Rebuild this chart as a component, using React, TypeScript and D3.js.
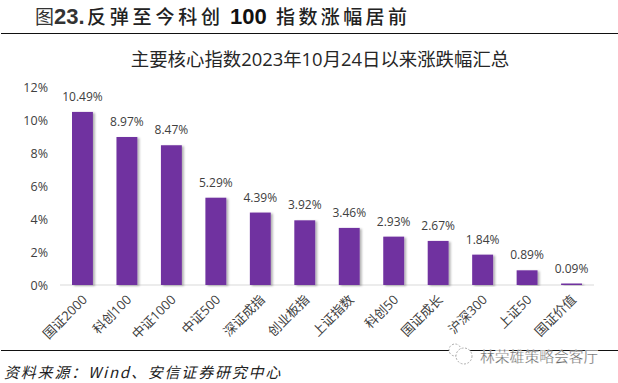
import React from "react";
import * as d3 from "d3";

const categories = ["国证2000","科创100","中证1000","中证500","深证成指","创业板指","上证指数","科创50","国证成长","沪深300","上证50","国证价值"];
const values = [10.49,8.97,8.47,5.29,4.39,3.92,3.46,2.93,2.67,1.84,0.89,0.09];
const yTicks = [0,2,4,6,8,10,12];
const chartTitle = "主要核心指数2023年10月24日以来涨跌幅汇总";
const sourceText = "资料来源：Wind、安信证券研究中心";
const watermark = "林荣雄策略会客厅";

const W = 618, H = 383;
const sans = "'Open Sans','Noto Sans CJK SC',sans-serif";
const cjk = "'Noto Sans CJK SC',sans-serif";
const latin = "'Liberation Sans',sans-serif";

export default function App() {
  const x = d3.scaleBand<string>().domain(categories).range([60, 594]).paddingInner(0.53).paddingOuter(0.27);
  const y = d3.scaleLinear().domain([0, 12]).range([285, 87]);
  return (
    <svg width={W} height={H} style={{ position: "absolute", left: 0, top: 0, background: "#fff" }}>
      <defs>
        <filter id="s" x="-20%" y="-5%" width="150%" height="110%">
          <feDropShadow dx="2" dy="1" stdDeviation="1.2" floodColor="#000" floodOpacity="0.3" />
        </filter>
      </defs>
      <text x={35} y={24} fontFamily={cjk} fontSize={19} fill="#333">图</text>
      <text x={54} y={24} fontFamily={latin} fontSize={22} fontWeight={700} fill="#333">23.</text>
      <text x={87} y={24} fontFamily={cjk} fontSize={19} fontWeight={500} fill="#222" letterSpacing={3.8}>反弹至今科创</text>
      <text x={230} y={24} fontFamily={latin} fontSize={22} fontWeight={700} fill="#111">100</text>
      <text x={276} y={24} fontFamily={cjk} fontSize={19} fontWeight={500} fill="#222" letterSpacing={3.4}>指数涨幅居前</text>
      <line x1={1} x2={618} y1={33.5} y2={33.5} stroke="#111" strokeWidth={1} />
      <text x={320} y={66} textAnchor="middle" fontFamily={sans} fontSize={18.4} fill="#262626">{chartTitle}</text>
      <line x1={60} x2={594} y1={y(0)} y2={y(0)} stroke="#d9d9d9" />
      {yTicks.map(t => (
        <text key={t} x={48} y={y(t) + 5} textAnchor="end" fontFamily={sans} fontSize={12.5} fill="#404040">{t}%</text>
      ))}
      {categories.map((c, i) => (
        <g key={c}>
          <rect x={x(c)} y={y(values[i])} width={x.bandwidth()} height={y(0) - y(values[i])} fill="#7030A0" filter="url(#s)" />
          <text x={x(c)! + x.bandwidth() / 2} y={y(values[i]) - 11} textAnchor="middle" fontFamily={sans} fontSize={12} fill="#404040">{values[i].toFixed(2)}%</text>
          <text transform={`translate(${x(c)! + x.bandwidth() / 2 + 3},${y(0) + 13}) rotate(-45)`} textAnchor="end" dominantBaseline="middle" fontFamily={sans} fontSize={13} fill="#404040">{c}</text>
        </g>
      ))}
      <line x1={1} x2={618} y1={350.5} y2={350.5} stroke="#111" strokeWidth={1} />
      <text x={4} y={378} fontFamily={cjk} fontSize={15} fontStyle="italic" fill="#222" letterSpacing={1.8}>{sourceText}</text>
      <g fill="#fff" stroke="#999" strokeWidth={0.8} strokeDasharray="2 1.5">
        <circle cx={455} cy={350} r={6} />
        <circle cx={464} cy={356} r={8} />
      </g>
      <text x={480} y={362} fontFamily={cjk} fontSize={14.8} fill="#666" stroke="#fff" strokeWidth={0.3}>{watermark}</text>
    </svg>
  );
}
